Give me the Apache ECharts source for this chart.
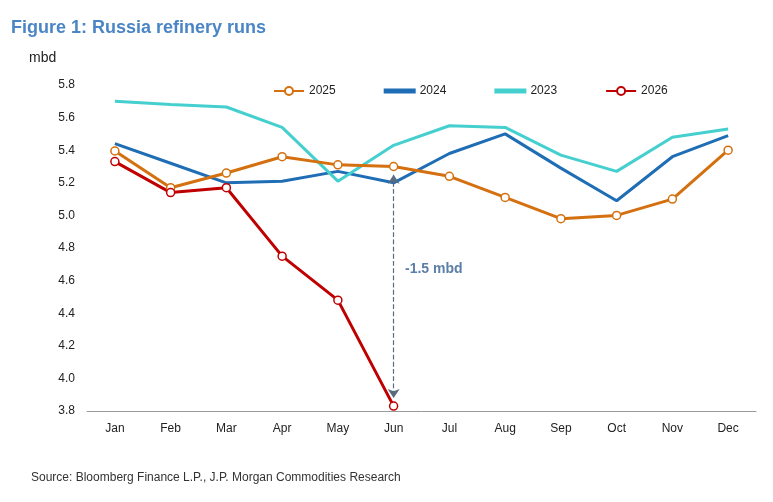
<!DOCTYPE html>
<html>
<head>
<meta charset="utf-8">
<script src="https://cdn.jsdelivr.net/npm/echarts@6/dist/echarts.min.js"></script>
<style>body{margin:0;background:#fff}#c{width:773px;height:502px}</style>
</head>
<body>
<div id="c"></div>
<script>
const months = ["Jan","Feb","Mar","Apr","May","Jun","Jul","Aug","Sep","Oct","Nov","Dec"];
const y2025 = [5.395,5.17,5.26,5.36,5.31,5.30,5.24,5.11,4.98,5.00,5.10,5.40];
const y2024 = [5.44,5.32,5.20,5.21,5.27,5.20,5.38,5.50,5.29,5.09,5.36,5.49];
const y2023 = [5.70,5.68,5.665,5.54,5.21,5.43,5.55,5.54,5.37,5.27,5.48,5.53];
const y2026 = [5.33,5.14,5.17,4.75,4.48,3.83];

const font = "Liberation Sans, Arial, sans-serif";
const chart = echarts.init(document.getElementById("c"));
const lineIcon = "path://M0,0H30V3H0Z";

function line(name, data, color, marker) {
  return {
    name, type: "line", data,
    symbol: marker ? "circle" : "none",
    symbolSize: 8,
    showSymbol: marker,
    lineStyle: { color, width: 3 },
    itemStyle: { color: marker ? "#fff" : color, borderColor: color, borderWidth: 1.5 },
    z: marker ? 3 : 2,
  };
}

const s2025 = line("2025", y2025, "#d4700f", true);
s2025.markLine = {
  silent: true,
  symbol: ["arrow", "arrow"],
  symbolSize: 9,
  lineStyle: { color: "#5a6b7f", type: "dashed", width: 1.2 },
  label: { show: false },
  data: [[{ coord: ["Jun", 5.25] }, { coord: ["Jun", 3.88] }]],
};

chart.setOption({
  animation: false,
  textStyle: { fontFamily: font },
  title: [
    { text: "Figure 1: Russia refinery runs", left: 6, top: 14,
      textStyle: { color: "#4a86c5", fontSize: 18, fontWeight: "bold", fontFamily: font } },
    { text: "mbd", left: 24, top: 46, textStyle: { color: "#222", fontSize: 14, fontWeight: "normal", fontFamily: font } },
    { text: "Source: Bloomberg Finance L.P., J.P. Morgan Commodities Research", left: 26, top: 467,
      textStyle: { color: "#333", fontSize: 12, fontWeight: "normal", fontFamily: font } },
  ],
  legend: {
    top: 80, left: 268, itemGap: 48, itemWidth: 30, itemHeight: 10,
    textStyle: { fontSize: 12, color: "#222" },
    data: [
      { name: "2025" },
      { name: "2024", icon: lineIcon },
      { name: "2023", icon: lineIcon },
      { name: "2026" },
    ],
  },
  grid: { left: 87, right: 17, top: 85, bottom: 91 },
  xAxis: {
    type: "category", data: months, boundaryGap: true,
    axisLine: { lineStyle: { color: "#999" } },
    axisTick: { show: false },
    axisLabel: { color: "#222", fontSize: 12, margin: 12 },
  },
  yAxis: {
    type: "value", min: 3.8, max: 5.8, interval: 0.2,
    splitLine: { show: false },
    axisLine: { show: false }, axisTick: { show: false },
    axisLabel: { color: "#222", fontSize: 12, margin: 12, formatter: v => v.toFixed(1) },
  },
  graphic: [
    { type: "text", left: 405, top: 262,
      style: { text: "-1.5 mbd", fill: "#5b7fa8", font: "bold 14px " + font } },
  ],
  series: [
    s2025,
    line("2024", y2024, "#1f6db5", false),
    line("2023", y2023, "#45cfcf", false),
    line("2026", y2026, "#c00000", true),
  ],
});
</script>
</body>
</html>
